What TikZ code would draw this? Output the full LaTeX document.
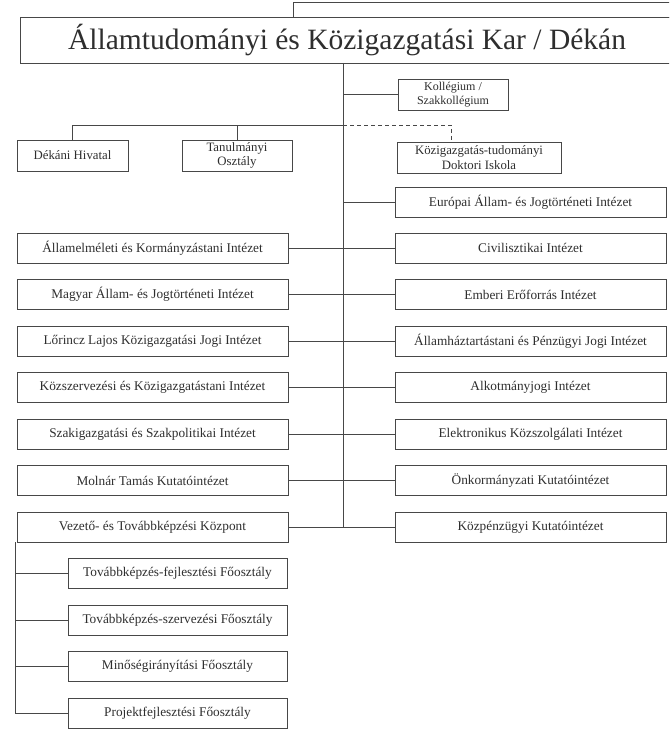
\documentclass[tikz,border=0pt]{standalone}
\usepackage{fontspec}
\setmainfont{Liberation Serif}
\begin{document}
\begin{tikzpicture}[x=1pt,y=-1pt,
  ln/.style={draw=black!72, line width=0.8pt},
  box/.style={ln, rectangle, inner sep=0pt, outer sep=0pt, anchor=north west,
    text=black!82, font=\fontsize{13.3}{15}\selectfont, align=center},
  lbox/.style={box, minimum width=271pt, minimum height=30pt},
  rbox/.style={box, minimum width=271pt, minimum height=30pt},
  sbox/.style={box, minimum width=219pt, minimum height=30pt},
  tbox/.style={box, minimum height=31pt, font=\fontsize{12.8}{14.8}\selectfont},
  dashline/.style={ln, dash pattern=on 4pt off 3pt}
]
\useasboundingbox (0,0) rectangle (669,743);
\clip (0,0) rectangle (669,743);

% top (cut-off) box and title box
\node[ln, rectangle, anchor=north west, inner sep=0pt, minimum width=400pt, minimum height=15pt] (topbox) at (293,2) {};
\node[box, minimum width=654pt, minimum height=46pt, font=\fontsize{29.5}{32}\selectfont] (title) at (20,17) {Államtudományi és Közigazgatási Kar / Dékán};

% upper small boxes
\node[tbox, minimum width=110pt, font=\fontsize{12}{14}\selectfont] (koll) at (398,79) {Kollégium /\\Szakkollégium};
\node[tbox, minimum width=111pt] (dek) at (17,140) {Dékáni Hivatal};
\node[tbox, minimum width=110pt] (tan) at (182,140) {Tanulmányi\\Osztály};
\node[tbox, minimum width=164pt] (dok) at (397,142) {Közigazgatás-tudományi\\Doktori Iskola};

% left column
\node[lbox] (L1) at (17,233) {Államelméleti és Kormányzástani Intézet};
\node[lbox] (L2) at (17,279.5) {Magyar Állam- és Jogtörténeti Intézet};
\node[lbox] (L3) at (17,326) {Lőrincz Lajos Közigazgatási Jogi Intézet};
\node[lbox] (L4) at (17,372.5) {Közszervezési és Közigazgatástani Intézet};
\node[lbox] (L5) at (17,419) {Szakigazgatási és Szakpolitikai Intézet};
\node[lbox] (L6) at (17,465.5) {Molnár Tamás Kutatóintézet};
\node[lbox] (L7) at (17,512) {Vezető- és Továbbképzési Központ};

% right column
\node[rbox] (R0) at (395,187) {Európai Állam- és Jogtörténeti Intézet};
\node[rbox] (R1) at (395,233) {Civilisztikai Intézet};
\node[rbox] (R2) at (395,279.5) {Emberi Erőforrás Intézet};
\node[rbox] (R3) at (395,326) {Államháztartástani és Pénzügyi Jogi Intézet};
\node[rbox] (R4) at (395,372.5) {Alkotmányjogi Intézet};
\node[rbox] (R5) at (395,419) {Elektronikus Közszolgálati Intézet};
\node[rbox] (R6) at (395,465.5) {Önkormányzati Kutatóintézet};
\node[rbox] (R7) at (395,512) {Közpénzügyi Kutatóintézet};

% sub boxes
\node[sbox] (S1) at (68,558.5) {Továbbképzés-fejlesztési Főosztály};
\node[sbox] (S2) at (68,605) {Továbbképzés-szervezési Főosztály};
\node[sbox] (S3) at (68,651.5) {Minőségirányítási Főosztály};
\node[sbox] (S4) at (68,698) {Projektfejlesztési Főosztály};

% trunk
\coordinate (trunk) at (343,527);
\draw[ln] (trunk |- title.south) -- (trunk |- L7.east);
\draw[ln] (koll.west) -- (koll.west -| trunk);

% upper horizontal line
\coordinate (hl) at (343,125);
\coordinate (dk) at (451,125);
\draw[ln] (dek.north) -- (dek.north |- hl) -- (hl);
\draw[ln] (tan.north) -- (tan.north |- hl);
\draw[dashline] (hl) -- (dk) -- (dk |- dok.north);

% column connectors
\foreach \n in {L1,L2,L3,L4,L5,L6,L7} \draw[ln] (\n.east) -- (\n.east -| trunk);
\foreach \n in {R0,R1,R2,R3,R4,R5,R6,R7} \draw[ln] (\n.west) -- (\n.west -| trunk);

% bracket
\coordinate (br) at (15,0);
\draw[ln] (L7.south -| br) -- (S4.west -| br) -- (S4.west);
\foreach \n in {S1,S2,S3} \draw[ln] (\n.west -| br) -- (\n.west);
\end{tikzpicture}
\end{document}
